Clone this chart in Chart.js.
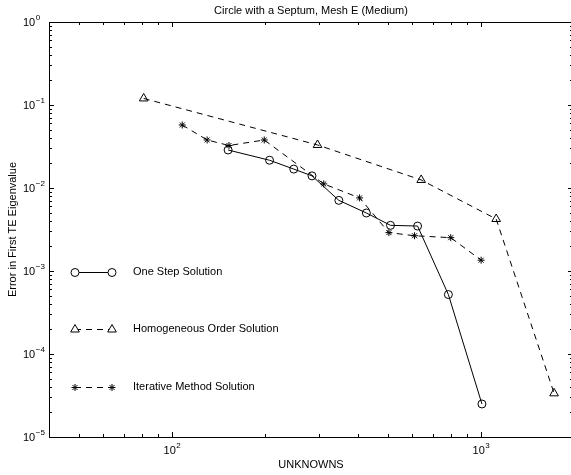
<!DOCTYPE html>
<html>
<head>
<meta charset="utf-8">
<script src="https://cdn.jsdelivr.net/npm/chart.js@4/dist/chart.umd.min.js"></script>
<style>
  html, body { margin: 0; padding: 0; background: #fff; overflow: hidden; }
</style>
</head>
<body>
<canvas id="errChart" width="571" height="475"></canvas>
<script>
// values
const oneStepUnknowns = [152, 207, 248, 284, 347, 426, 510, 624, 785, 1008];
const oneStepError = [0.0287, 0.0216, 0.0169, 0.0140, 0.0071, 0.0050, 0.00355, 0.00348, 0.00052, 0.000025];

const homogUnknowns = [81, 296, 641, 1121, 1726];
const homogError = [0.120, 0.033, 0.0125, 0.00423, 0.0000336];

const iterUnknowns = [108, 130, 153, 199, 310, 405, 504, 610, 799, 1002];
const iterError = [0.0574, 0.0379, 0.0325, 0.0379, 0.0112, 0.0076, 0.0029, 0.00266, 0.00252, 0.00135];

const xTickPowers = [2, 3];
const yTickPowers = [0, -1, -2, -3, -4, -5];

const titleText = "Circle with a Septum, Mesh E (Medium)";
const xTitle = "UNKNOWNS";
const yTitle = "Error in First TE Eigenvalue";

const FONT = '"Liberation Sans", Arial, Helvetica, sans-serif';

function pts(xs, ys) {
  return xs.map((x, i) => ({ x: x, y: ys[i] }));
}

// legend rows sit inside the axes, MATLAB style
const legendRows = [
  { label: "One Step Solution", y: 272 },
  { label: "Homogeneous Order Solution", y: 329 },
  { label: "Iterative Method Solution", y: 387 },
];

function drawSupLabel(ctx, base, exp, x, y, align) {
  ctx.font = "11px " + FONT;
  const bw = ctx.measureText(base).width;
  ctx.font = "8px " + FONT;
  const ew = ctx.measureText(exp).width;
  let left = x;
  if (align === "center") left = x - (bw + ew) / 2;
  ctx.textAlign = "left";
  ctx.textBaseline = "middle";
  ctx.font = "11px " + FONT;
  ctx.fillText(base, left, y);
  ctx.font = "8px " + FONT;
  ctx.fillText(exp, left + bw + 0.5, y - 5);
}

const frame = {
  id: "frame",
  afterDraw(chart) {
    const ctx = chart.ctx;
    const a = chart.chartArea;
    const xs = chart.scales.x;
    const ys = chart.scales.y;
    const right = a.right + 2; // the right side of the box falls just outside the picture
    ctx.save();
    ctx.strokeStyle = "#000";
    ctx.fillStyle = "#000";
    ctx.lineWidth = 1;

    ctx.strokeRect(a.left + 0.5, a.top + 0.5, right - a.left, a.bottom - a.top);

    // x ticks (top and bottom, inward)
    ctx.beginPath();
    for (let p = 1; p <= 3; p++) {
      for (let m = 1; m <= 9; m++) {
        const v = m * Math.pow(10, p);
        if (v < xs.min || v > xs.max) continue;
        const px = Math.round(xs.getPixelForValue(v)) + 0.5;
        const len = m === 1 ? 5 : 3;
        ctx.moveTo(px, a.bottom); ctx.lineTo(px, a.bottom - len);
        ctx.moveTo(px, a.top); ctx.lineTo(px, a.top + len);
      }
    }
    // y ticks (left and right, inward)
    for (let p = -5; p <= 0; p++) {
      for (let m = 1; m <= 9; m++) {
        const v = m * Math.pow(10, p);
        if (v < ys.min || v > ys.max) continue;
        const py = Math.round(ys.getPixelForValue(v)) + 0.5;
        const len = m === 1 ? 5 : 3;
        ctx.moveTo(a.left, py); ctx.lineTo(a.left + len, py);
        ctx.moveTo(right, py); ctx.lineTo(right - len, py);
      }
    }
    ctx.stroke();

    // tick labels
    xTickPowers.forEach(p => {
      const px = xs.getPixelForValue(Math.pow(10, p));
      drawSupLabel(ctx, "10", String(p), px, 451, "center");
    });
    yTickPowers.forEach(p => {
      const py = ys.getPixelForValue(Math.pow(10, p));
      drawSupLabel(ctx, "10", p < 0 ? "\u2212" + (-p) : String(p), 23, py + 1, "left");
    });

    // titles
    const cx = (a.left + right) / 2;
    ctx.font = "11px " + FONT;
    ctx.textAlign = "center";
    ctx.textBaseline = "middle";
    ctx.fillText(titleText, cx, 11);
    ctx.fillText(xTitle, cx, 465);
    ctx.save();
    ctx.translate(13, (a.top + a.bottom) / 2);
    ctx.rotate(-Math.PI / 2);
    ctx.fillText(yTitle, 0, 0);
    ctx.restore();

    // legend
    legendRows.forEach((row, i) => {
      const ds = chart.data.datasets[i];
      ctx.save();
      ctx.lineWidth = 1;
      ctx.strokeStyle = "#000";
      ctx.setLineDash(ds.borderDash || []);
      ctx.beginPath();
      ctx.moveTo(75, row.y + 0.5);
      ctx.lineTo(112, row.y + 0.5);
      ctx.stroke();
      ctx.setLineDash([]);
      const opts = { pointStyle: ds.pointStyle, radius: ds.pointRadius, borderWidth: 1, rotation: 0 };
      ctx.fillStyle = "#fff";
      [75, 112].forEach(x => Chart.helpers.drawPoint(ctx, opts, x, row.y + 0.5));
      ctx.restore();
      ctx.font = "11px " + FONT;
      ctx.textAlign = "left";
      ctx.textBaseline = "middle";
      ctx.fillStyle = "#000";
      ctx.fillText(row.label, 133, row.y);
    });
    ctx.restore();
  },
};

const zeroSize = (s) => { s.width = 0; s.height = 0; };

new Chart(document.getElementById("errChart"), {
  type: "line",
  data: {
    datasets: [
      {
        label: "One Step Solution",
        data: pts(oneStepUnknowns, oneStepError),
        borderColor: "#000",
        borderWidth: 1,
        pointStyle: "circle",
        pointRadius: 4,
        pointBorderColor: "#000",
        pointBackgroundColor: "rgba(0,0,0,0)",
        pointBorderWidth: 1,
      },
      {
        label: "Homogeneous Order Solution",
        data: pts(homogUnknowns, homogError),
        borderColor: "#000",
        borderWidth: 1,
        borderDash: [6, 5],
        pointStyle: "triangle",
        pointRadius: 5,
        pointBorderColor: "#000",
        pointBackgroundColor: "rgba(0,0,0,0)",
        pointBorderWidth: 1,
      },
      {
        label: "Iterative Method Solution",
        data: pts(iterUnknowns, iterError),
        borderColor: "#000",
        borderWidth: 1,
        borderDash: [6, 5],
        pointStyle: "star",
        pointRadius: 3.5,
        pointBorderColor: "#000",
        pointBackgroundColor: "#000",
        pointBorderWidth: 1,
      },
    ],
  },
  options: {
    responsive: false,
    animation: false,
    devicePixelRatio: 1,
    layout: { autoPadding: false, padding: { left: 49, right: 0, top: 22, bottom: 38 } },
    plugins: { legend: { display: false }, title: { display: false }, tooltip: { enabled: false } },
    scales: {
      x: {
        type: "logarithmic",
        min: 40,
        max: 1958,
        ticks: { display: false },
        grid: { display: false },
        border: { display: false },
        afterFit: zeroSize,
      },
      y: {
        type: "logarithmic",
        min: 1e-5,
        max: 1,
        ticks: { display: false },
        grid: { display: false },
        border: { display: false },
        afterFit: zeroSize,
      },
    },
  },
  plugins: [frame],
});
</script>
</body>
</html>
